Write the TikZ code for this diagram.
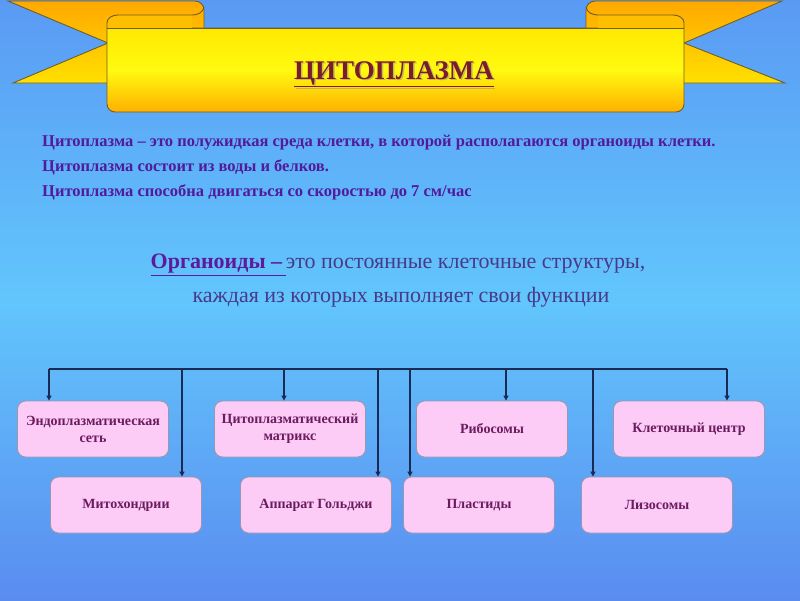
\documentclass[tikz,border=0pt]{standalone}
\usepackage{fontspec}
\setmainfont{Liberation Serif}
\usetikzlibrary{arrows.meta}
\definecolor{bgTop}{HTML}{5A9AF4}
\definecolor{bgMid}{HTML}{62C6FC}
\definecolor{bgBot}{HTML}{5A8CF0}
\definecolor{tailTop}{HTML}{FFA800}
\definecolor{tailBot}{HTML}{FFE000}
\definecolor{bandTop}{HTML}{FFE800}
\definecolor{bandMid}{HTML}{FFFA10}
\definecolor{bandBot}{HTML}{FFB000}
\definecolor{bandLine}{HTML}{6E5E28}
\definecolor{titleCol}{HTML}{7A1C2E}
\definecolor{bodyCol}{HTML}{521A9C}
\definecolor{orgCol}{HTML}{473A8C}
\definecolor{orgBold}{HTML}{5C1A9C}
\definecolor{boxFill}{HTML}{FCCBF6}
\definecolor{boxLine}{HTML}{9A98B0}
\definecolor{boxText}{HTML}{6A1C5E}
\definecolor{connCol}{HTML}{1B2A55}
\tikzset{
  orgbox/.style={draw=boxLine, line width=0.9pt, fill=boxFill, rounded corners=8pt,
    minimum width=151pt, minimum height=56pt, align=center, inner sep=2pt,
    text=boxText, font=\fontsize{14}{17}\selectfont\bfseries},
  conn/.style={draw=connCol, line width=1.2pt},
  arr/.style={conn, -{Triangle[width=5pt,length=5pt]}},
  bodyline/.style={anchor=west, text=bodyCol, inner sep=0pt, font=\fontsize{16.5}{19}\selectfont\bfseries},
  orgline/.style={text=orgCol, inner sep=0pt, font=\fontsize{22}{26}\selectfont},
  ribbon/.style={draw=bandLine, line width=0.9pt},
}
\begin{document}
\begin{tikzpicture}[x=1pt,y=-1pt]
\useasboundingbox (0,0) rectangle (800,600);
% background
\shade[top color=bgTop, bottom color=bgBot, middle color=bgMid] (0,0) rectangle (800,600);
% tails
\shade[top color=tailTop, bottom color=tailBot, ribbon, rounded corners=0pt]
  (8,1) -- (195,1) to[out=0,in=90] (204,10) -- (204,83) -- (13,83) -- (108,43) -- cycle;
\shade[top color=tailTop, bottom color=tailBot, ribbon]
  (782,1) -- (595,1) to[out=180,in=90] (586,10) -- (586,83) -- (785,83) -- (684,43) -- cycle;
% main band (front)
\shade[top color=bandTop, bottom color=bandBot, middle color=bandMid, ribbon]
  (107,28) -- (107,104) to[out=-90,in=180] (115,112) -- (676,112) to[out=0,in=-90] (684,104) -- (684,28) -- cycle;
% rolls
\fill[tailTop!60!tailBot] (107,28) -- (107,23) to[out=90,in=180] (118,15) -- (192,15) -- (192,28) -- cycle;
\fill[tailTop!60!tailBot] (684,28) -- (684,23) to[out=90,in=0] (673,15) -- (598,15) -- (598,28) -- cycle;
\draw[ribbon] (107,28) -- (107,23) to[out=90,in=180] (118,15) -- (192,15) to[out=0,in=-100] (204,7);
\draw[ribbon] (684,28) -- (684,23) to[out=90,in=0] (673,15) -- (598,15) to[out=180,in=-80] (586,7);
\draw[ribbon] (107,28) -- (684,28);
% title
\node[text=black!45, opacity=0.5, font=\fontsize{27}{30}\selectfont\bfseries] at (395.5,75.5) {\underline{ЦИТОПЛАЗМА}};
\node[text=titleCol, font=\fontsize{27}{30}\selectfont\bfseries] (title) at (394,74) {\underline{ЦИТОПЛАЗМА}};
% body text
\node[bodyline] (l1) at (42,143) {Цитоплазма – это полужидкая среда клетки, в которой располагаются органоиды клетки.};
\node[bodyline] (l2) at (42,167) {Цитоплазма состоит из воды и белков.};
\node[bodyline] (l3) at (42,192) {Цитоплазма способна двигаться со скоростью до 7 см/час};
% organoids
\node[orgline] (o1) at (398,265) {{\color{orgBold}\bfseries\underline{Органоиды –\,}}это постоянные клеточные структуры,};
\node[orgline] (o2) at (401,297) {каждая из которых выполняет свои функции};
% boxes
\node[orgbox] (er) at (93,429) {Эндоплазматическая\\сеть};
\node[orgbox] (cm) at (290,429) {Цитоплазматический\\матрикс};
\node[orgbox] (rb) at (492,429) {Рибосомы};
\node[orgbox] (kc) at (689,429) {Клеточный центр};
\node[orgbox] (mt) at (126,505) {Митохондрии};
\node[orgbox] (ag) at (316,505) {Аппарат Гольджи};
\node[orgbox] (pl) at (479,505) {Пластиды};
\node[orgbox] (lz) at (657,505) {Лизосомы};
% connectors
\coordinate (bL) at (49,369);
\coordinate (bR) at (727,369);
\coordinate (d2) at (182,369);
\coordinate (d3) at (284,369);
\coordinate (d4) at (378,369);
\coordinate (d5) at (410,369);
\coordinate (d6) at (506,369);
\coordinate (d7) at (593,369);
\draw[conn] (bL) -- (bR);
\draw[arr] (bL) -- (bL |- er.north);
\draw[arr] (d2) -- (d2 |- mt.north);
\draw[arr] (d3) -- (d3 |- cm.north);
\draw[arr] (d4) -- (d4 |- ag.north);
\draw[arr] (d5) -- (d5 |- pl.north);
\draw[arr] (d6) -- (d6 |- rb.north);
\draw[arr] (d7) -- (d7 |- lz.north);
\draw[arr] (bR) -- (bR |- kc.north);
\end{tikzpicture}
\end{document}
